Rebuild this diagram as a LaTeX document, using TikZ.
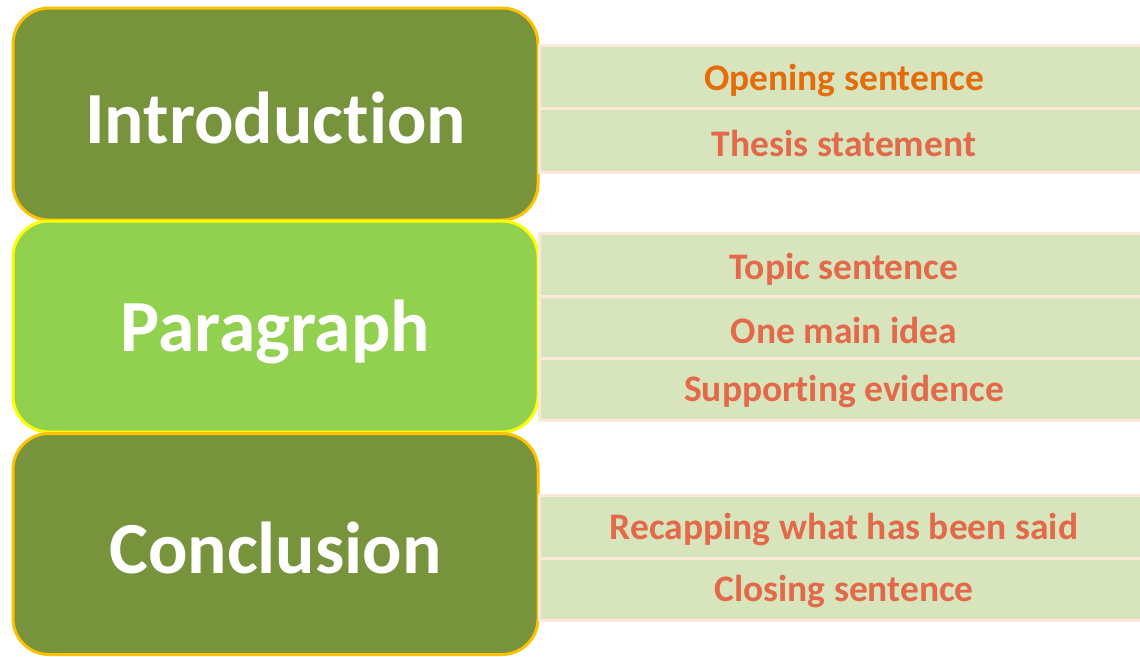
\documentclass[tikz,border=0pt]{standalone}
\usepackage{fontspec}
\setmainfont{Carlito}[Ligatures=NoCommon]
\definecolor{darkgr}{HTML}{77933C}
\definecolor{lightgr}{HTML}{92D050}
\definecolor{gold}{HTML}{FFC000}
\definecolor{yell}{HTML}{FFFF00}
\definecolor{barfill}{HTML}{D8E4BC}
\definecolor{barline}{HTML}{FDE9D9}
\definecolor{orangetx}{HTML}{E46C0A}
\definecolor{salmontx}{HTML}{E2694A}
\tikzset{
  bigbox/.style={rounded corners=36pt, line width=3pt, minimum width=525pt,
    text=white, font=\bfseries\fontsize{73.5}{80}\selectfont, inner sep=0pt},
  barbox/.style={fill=barfill, draw=barline, line width=3pt, minimum width=608pt,
    inner sep=0pt, anchor=west},
  bartext/.style={font=\bfseries\fontsize{37.5}{42}\selectfont, text=salmontx, inner sep=0pt}
}
\begin{document}
\begin{tikzpicture}[x=1pt,y=-1pt]
\useasboundingbox (0,0) rectangle (1140,656);
\clip (0,0) rectangle (1140,656);
% left boxes
\node[bigbox, fill=darkgr, draw=gold, minimum height=212pt] (intro) at (275.5,114) {};
\node[bigbox, fill=lightgr, draw=yell, minimum height=211pt] (para) at (275.5,326.5) {};
\node[bigbox, fill=darkgr, draw=gold, minimum height=221pt] (concl) at (275.5,544) {};
% right bars
\node[barbox, minimum height=63.5pt] (b1) at (538,76.75) {};
\node[barbox, minimum height=63.5pt] (b2) at (538,140.25) {};
\node[barbox, minimum height=63pt] (b3) at (538,264.5) {};
\node[barbox, minimum height=62pt] (b4) at (538,327) {};
\node[barbox, minimum height=62pt] (b5) at (538,389) {};
\node[barbox, minimum height=63pt] (b6) at (538,526.5) {};
\node[barbox, minimum height=62pt] (b7) at (538,589) {};
% titles
\node[bigbox, draw=none, minimum width=0pt, minimum height=0pt] (tintro) at (275.5,118) {Introduction};
\node[bigbox, draw=none, minimum width=0pt, minimum height=0pt] (tpara) at (275.5,332) {Paragraph};
\node[bigbox, draw=none, minimum width=0pt, minimum height=0pt] (tconcl) at (275.5,548) {Conclusion};
% bar texts
\node[bartext, text=orangetx] (t1) at (844,81) {Opening sentence};
\node[bartext] (t2) at (844,143) {Thesis statement};
\node[bartext] (t3) at (844,269) {Topic sentence};
\node[bartext] (t4) at (844,330) {One main idea};
\node[bartext] (t5) at (844,392) {Supporting evidence};
\node[bartext] (t6) at (844,530) {Recapping what has been said};
\node[bartext] (t7) at (844,592) {Closing sentence};
\end{tikzpicture}
\end{document}
